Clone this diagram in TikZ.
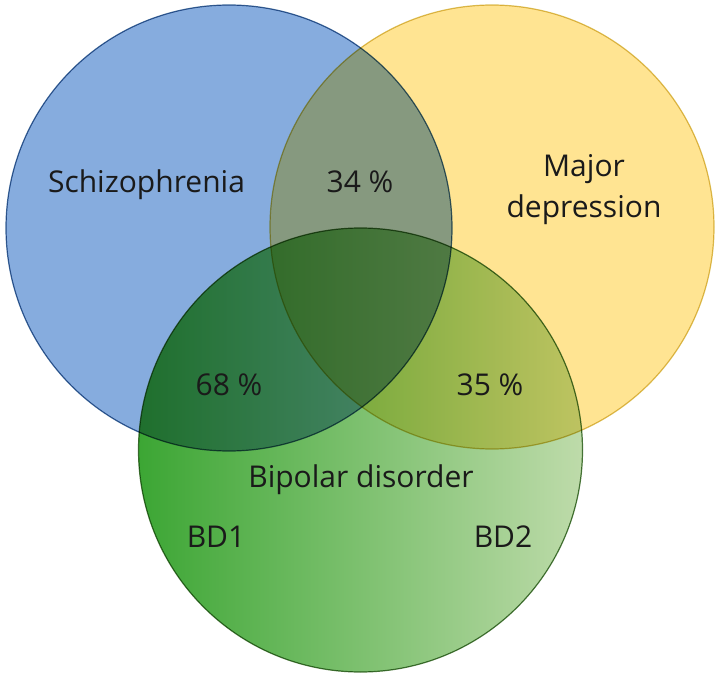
\documentclass[tikz,border=0pt]{standalone}
\usepackage{fontspec}
\setmainfont{Open Sans}
\usetikzlibrary{positioning}
\definecolor{vnblue}{RGB}{134,172,222}
\definecolor{vnblueline}{RGB}{62,104,152}
\definecolor{vnyellow}{RGB}{255,228,146}
\definecolor{vnyellowline}{RGB}{218,192,90}
\definecolor{vngreenL}{RGB}{60,166,52}
\definecolor{vngreenM}{RGB}{140,199,118}
\definecolor{vngreenR}{RGB}{190,219,170}
\definecolor{vngreenline}{RGB}{78,122,62}
\definecolor{vntext}{RGB}{26,26,26}

\begin{document}
\begin{tikzpicture}[x=1pt, y=-1pt,
    set/.style={blend mode=multiply, line width=1.2pt},
    lbl/.style={text=vntext, font=\fontsize{30}{41}\selectfont, inner sep=0pt, anchor=base}]
  \useasboundingbox (0,0) rectangle (720,679);
  % centres of the three sets
  \coordinate (schC) at (229,228);
  \coordinate (depC) at (492,227);
  \coordinate (bipC) at (360.5,450);
  % the three sets, multiplied over each other
  \filldraw[set, fill=vnblue, draw=vnblueline] (schC) circle[radius=223pt];
  \filldraw[set, fill=vnyellow, draw=vnyellowline] (depC) circle[radius=222pt];
  \shade[set, left color=vngreenL, middle color=vngreenM, right color=vngreenR,
         draw=vngreenline] (bipC) circle[radius=222pt];
  % labels
  \node[lbl] (schiz) at (146.5,193) {Schizophrenia};
  \node[lbl] (schdep) at (360,193) {34 \%};
  \node[lbl, anchor=center, align=center] (majdep) at (584,190) {Major\\depression};
  \node[lbl] (schbip) at (229,395) {68 \%};
  \node[lbl] (depbip) at (490,395) {35 \%};
  \node[lbl] (bipolar) at (361,487) {Bipolar disorder};
  \node[lbl] (bdone) at (216,547) {BD1};
  \node[lbl] (bdtwo) at (503,547) {BD2};
\end{tikzpicture}
\end{document}
